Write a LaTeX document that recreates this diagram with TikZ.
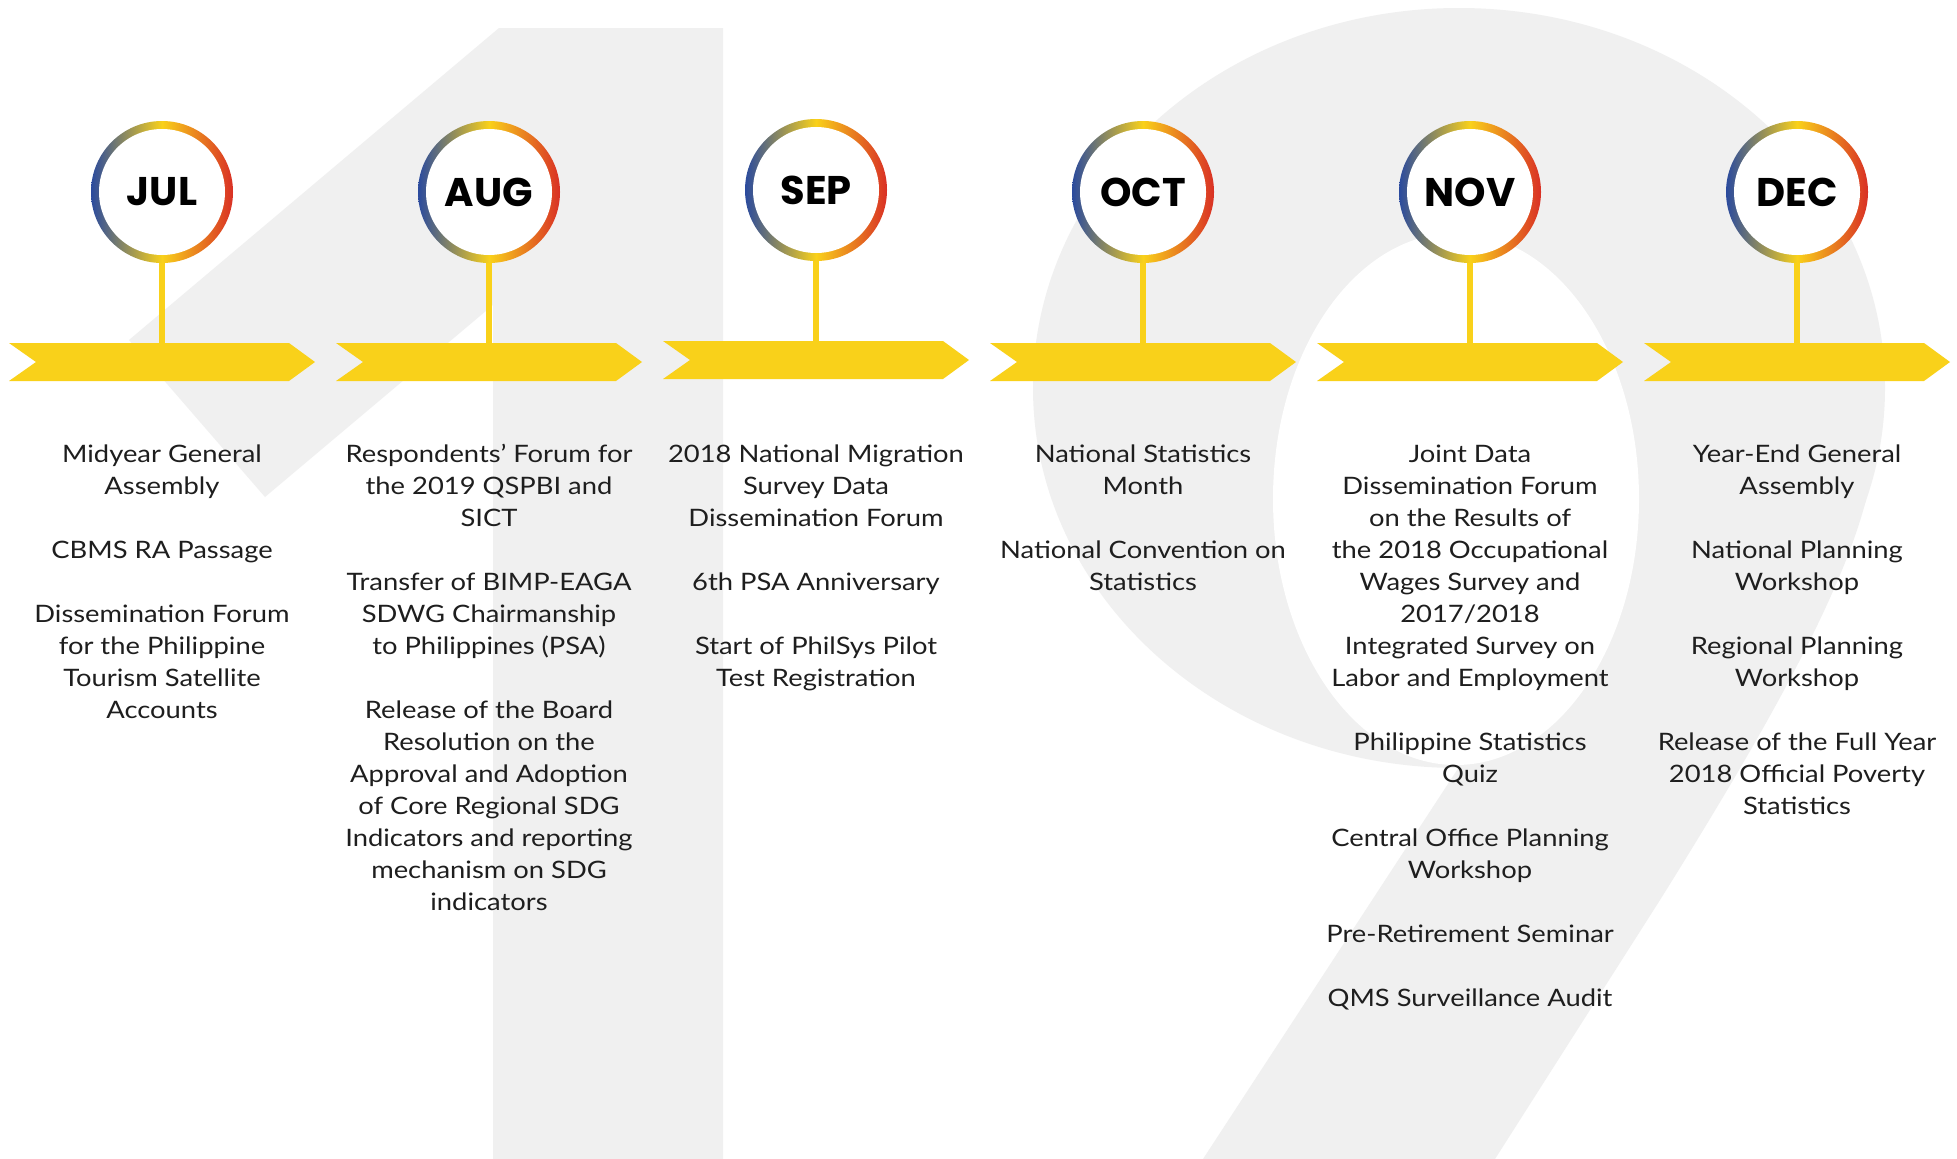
\documentclass[tikz,border=0pt]{standalone}
\usepackage{fontspec}
\setmainfont{Lato}[FakeStretch=1.14]
\newfontfamily\monthfont{Poppins}
\definecolor{bggray}{HTML}{F0F0F0}
\definecolor{ryellow}{HTML}{F9D11A}
\definecolor{rblue}{HTML}{2A4A9E}
\definecolor{rred}{HTML}{D93025}
\definecolor{txt}{HTML}{1E1E1E}
\tikzset{
  monthlbl/.style={circle, minimum size=142pt, inner sep=0pt, font=\monthfont\bfseries\fontsize{40}{40}\selectfont, text=black},
  stemline/.style={draw=ryellow, line width=5.5pt},
  chevronfill/.style={fill=ryellow},
  ringshade/.style={left color=rblue, right color=rred, middle color=ryellow},
  body/.style={anchor=north, align=center, inner sep=0pt, text=txt, font=\fontsize{24}{32}\selectfont}
}
\begin{document}
\begin{tikzpicture}[x=1pt,y=-1pt]
\useasboundingbox (0,0) rectangle (1957,1159);
\fill[white] (0,0) rectangle (1957,1159);
% background "1"
\fill[bggray] (499,28) -- (723,28) -- (723,1159) -- (493,1159) -- (493,305) -- (265,497) -- (129,340) -- cycle;
% background "9"
\fill[bggray] (1459,388) ellipse [x radius=426pt, y radius=380pt];
\fill[bggray] (1203,1159) -- (1495,1159) -- (1660,900) .. controls (1760,740) and (1840,600) .. (1866,500) -- (1640,500) -- (1459,767) -- cycle;
\fill[white] (1456,499) ellipse [x radius=183pt, y radius=266pt];
% months
\foreach \i/\c/\m/\dy in {1/162/JUL/0, 2/489/AUG/0, 3/816/SEP/-2, 4/1143/OCT/0, 5/1470/NOV/0, 6/1797/DEC/0} {
  \coordinate (a\i) at (\c,343+\dy);
  \fill[chevronfill] (\c-153,343+\dy) -- (\c+127,343+\dy) -- (\c+153,362+\dy) -- (\c+127,381+\dy) -- (\c-153,381+\dy) -- (\c-126,362+\dy) -- cycle;
  \shade[ringshade] (\c,192+\dy) circle (71pt);
  \fill[white] (\c,192+\dy) circle (63pt);
  \node[monthlbl] (m\i) at (\c,192+\dy) {\m};
  \draw[stemline] (m\i.south) -- (a\i);
}
% texts
\node[body] (t1) at (162,439.6) {\strut Midyear General\\Assembly\\~\\CBMS RA Passage\\~\\Dissemination Forum\\for the Philippine\\Tourism Satellite\\Accounts};
\node[body] (t2) at (489,439.6) {\strut Respondents’ Forum for\\the 2019 QSPBI and\\SICT\\~\\Transfer of BIMP-EAGA\\SDWG Chairmanship\\to Philippines (PSA)\\~\\Release of the Board\\Resolution on the\\Approval and Adoption\\of Core Regional SDG\\Indicators and reporting\\mechanism on SDG\\indicators};
\node[body] (t3) at (816,439.6) {\strut 2018 National Migration\\Survey Data\\Dissemination Forum\\~\\6th PSA Anniversary\\~\\Start of PhilSys Pilot\\Test Registration};
\node[body] (t4) at (1143,439.6) {\strut National Statistics\\Month\\~\\National Convention on\\Statistics};
\node[body] (t5) at (1470,439.6) {\strut Joint Data\\Dissemination Forum\\on the Results of\\the 2018 Occupational\\Wages Survey and\\2017/2018\\Integrated Survey on\\Labor and Employment\\~\\Philippine Statistics\\Quiz\\~\\Central Office Planning\\Workshop\\~\\Pre-Retirement Seminar\\~\\QMS Surveillance Audit};
\node[body] (t6) at (1797,439.6) {\strut Year-End General\\Assembly\\~\\National Planning\\Workshop\\~\\Regional Planning\\Workshop\\~\\Release of the Full Year\\2018 Official Poverty\\Statistics};
\end{tikzpicture}
\end{document}
